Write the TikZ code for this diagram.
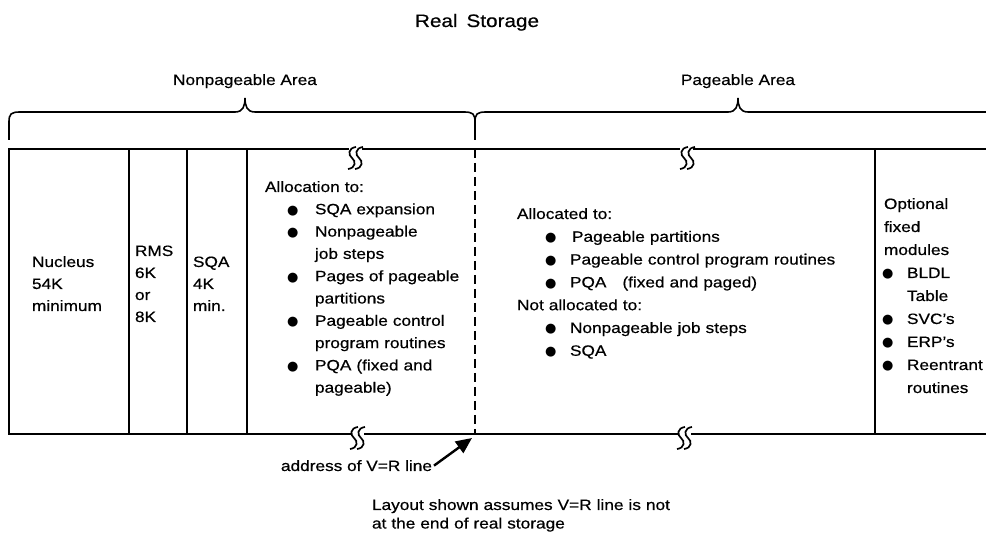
\documentclass[tikz,border=0pt]{standalone}
\usepackage{fontspec}
\setmainfont{Liberation Sans}[FakeStretch=1.15,FakeBold=0.5]
\newfontfamily\symf{DejaVu Sans}
\usetikzlibrary{arrows.meta}
\newcommand\bul{\raisebox{0pt}{\symf\fontsize{13}{13}\selectfont ●}}
\newcommand\bi[2]{\hspace*{#1}\makebox[#2][l]{\bul}}
\newcommand\ci[1]{\hspace*{#1}}
\begin{document}
\begin{tikzpicture}[x=1pt,y=-1pt,
  every node/.style={inner sep=0pt,outer sep=0pt,font=\fontsize{15}{22}\selectfont},
  frame/.style={line width=1.6pt},
  brace/.style={line width=1.6pt},
  vrline/.style={line width=1.6pt,dash pattern=on 9pt off 5pt},
  blk/.style={anchor=base west,align=left,text width=#1},
  brkmark/.pic={\draw[line width=1.7pt] (1,-9) .. controls (-7,-8) and (-7,-1) .. (-3,2) .. controls (1,5) and (1,12) .. (-7,13);
                \draw[line width=1.7pt] (8,-9) .. controls (0,-8) and (0,-1) .. (4,2) .. controls (8,5) and (8,12) .. (0,13);},
  arr/.style={line width=2.4pt,-{Triangle[length=16pt,width=14pt]}}]
\useasboundingbox (0,0) rectangle (986,534);

% titles
\node[anchor=base west,font=\fontsize{18}{22}\selectfont] (title) at (415,27) {Real\hspace{9pt}Storage};
\node[anchor=base] (npa) at (245,85) {Nonpageable Area};
\node[anchor=base] (pa) at (738,85) {Pageable Area};

% braces
\draw[brace] (9,140) -- (9,122) .. controls (9,114) and (11,112) .. (20,112)
  -- (235,112) .. controls (243,112) and (245,106) .. (245,98)
  .. controls (245,106) and (247,112) .. (255,112)
  -- (464,112) .. controls (473,112) and (475,114) .. (475,122) -- (475,140);
\draw[brace] (475,122) .. controls (475,114) and (477,112) .. (486,112)
  -- (728,112) .. controls (736,112) and (738,106) .. (738,98)
  .. controls (738,106) and (740,112) .. (748,112) -- (986,112);

% frame
\draw[frame] (986,149) -- (693,149);
\draw[frame] (680,149) -- (362,149);
\draw[frame] (349,149) -- (9,149) -- (9,434) -- (351,434);
\draw[frame] (364,434) -- (678,434);
\draw[frame] (691,434) -- (986,434);
\pic at (355,156) {brkmark};
\pic at (687,156) {brkmark};
\pic at (357,436) {brkmark};
\pic at (684,436) {brkmark};
\draw[frame] (129,149) -- (129,434);
\draw[frame] (187,149) -- (187,434);
\draw[frame] (247,149) -- (247,434);
\draw[frame] (875,149) -- (875,434);
\draw[vrline] (475,149) -- (475,434);

% column texts
\node[blk=80pt] (nuc) at (32,267) {Nucleus\\54K\\minimum};
\node[blk=50pt] (rms) at (135,256) {RMS\\6K\\or\\8K};
\node[blk=50pt] (sqa) at (193,267) {SQA\\4K\\min.};
\node[blk=210pt,font=\fontsize{15}{22.3}\selectfont] (alloc) at (265,192) {Allocation to:\\
\bi{22pt}{28pt}SQA expansion\\
\bi{22pt}{28pt}Nonpageable\\
\ci{50pt}job steps\\
\bi{22pt}{28pt}Pages of pageable\\
\ci{50pt}partitions\\
\bi{22pt}{28pt}Pageable control\\
\ci{50pt}program routines\\
\bi{22pt}{28pt}PQA (fixed and\\
\ci{50pt}pageable)};
\node[blk=340pt,font=\fontsize{15}{22.8}\selectfont] (pgd) at (517,219) {Allocated to:\\
\bi{28pt}{27pt}Pageable partitions\\
\bi{28pt}{25pt}Pageable control program routines\\
\bi{28pt}{25pt}PQA\hspace{16pt}(fixed and paged)\\
Not allocated to:\\
\bi{28pt}{25pt}Nonpageable job steps\\
\bi{28pt}{25pt}SQA};
\node[blk=110pt,font=\fontsize{15}{23}\selectfont] (opt) at (884,209) {Optional\\fixed\\modules\\
\bi{-2pt}{25pt}BLDL\\
\ci{23pt}Table\\
\bi{-2pt}{25pt}SVC's\\
\bi{-2pt}{25pt}ERP's\\
\bi{-2pt}{25pt}Reentrant\\
\ci{23pt}routines};

% notes
\node[anchor=base east] (addr) at (432,471) {address of V=R line};
\coordinate (vr) at (472,438);
\draw[arr] ([xshift=2pt]addr.east) -- (vr);
\node[blk=330pt,font=\fontsize{15}{18.5}\selectfont] (note) at (372,510) {Layout shown assumes V=R line is not\\at the end of real storage};
\end{tikzpicture}
\end{document}
